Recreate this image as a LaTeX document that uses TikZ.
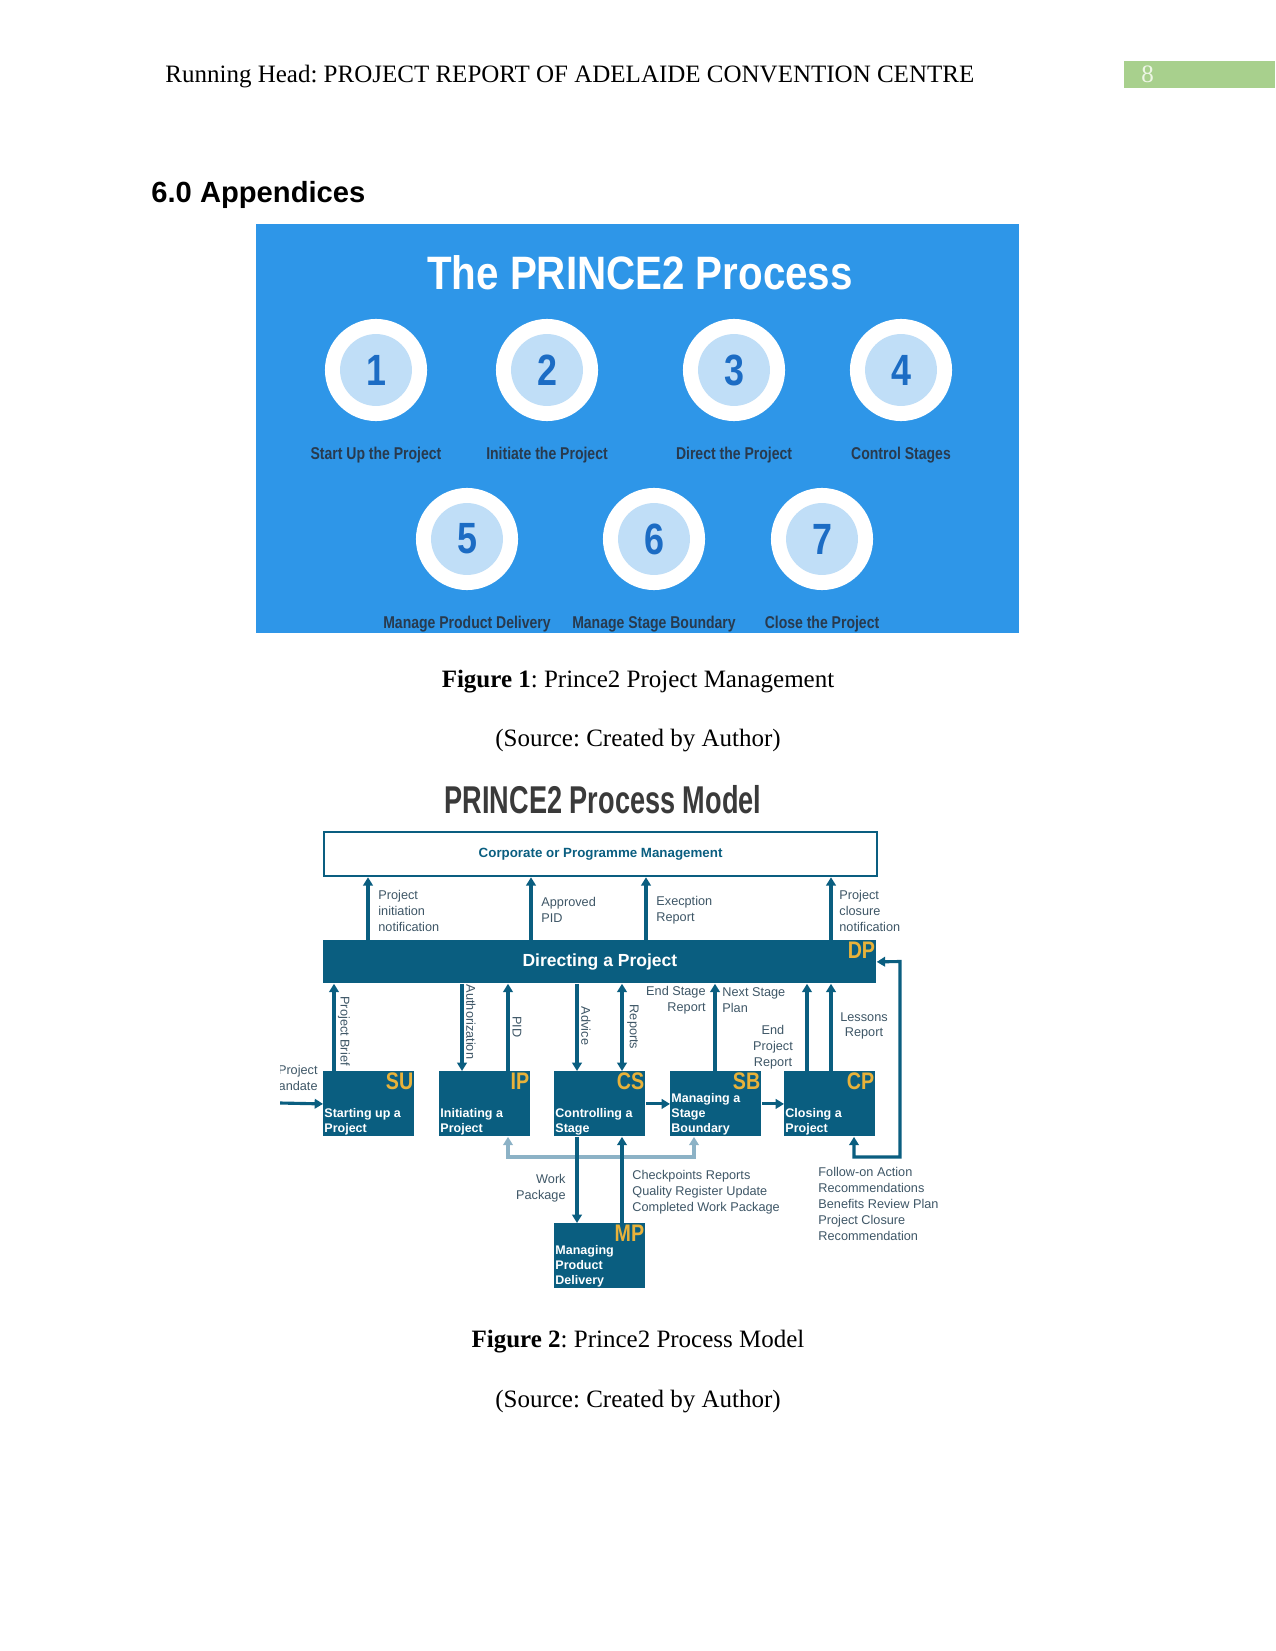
\documentclass[tikz,border=0pt]{standalone}
\usepackage{fontspec}
\setmainfont{Liberation Serif}
\setsansfont{Liberation Sans}
\newfontfamily\widesans[FakeStretch=0.86]{Liberation Sans}
\newfontfamily\narrowsans[FakeStretch=0.82]{Liberation Sans}
\newfontfamily\tightsans[FakeStretch=0.7]{Liberation Sans}
\usetikzlibrary{arrows.meta, positioning}
\frenchspacing

\definecolor{pblue}{RGB}{46,150,232}
\definecolor{pring}{RGB}{192,222,247}
\definecolor{pnum}{RGB}{28,108,196}
\definecolor{plabel}{RGB}{40,58,78}
\definecolor{pteal}{RGB}{10,94,128}
\definecolor{pgold}{RGB}{232,178,58}
\definecolor{plite}{RGB}{140,178,198}
\definecolor{ptext}{RGB}{62,86,102}
\definecolor{pgreen}{RGB}{168,208,141}
\definecolor{ptabtext}{RGB}{238,246,230}
\definecolor{ptitle}{RGB}{58,58,58}

\begin{document}
\begin{tikzpicture}[x=0.48pt, y=-0.48pt,
  >={Triangle[width=4.6pt,length=4pt]},
  pagetext/.style={font=\fontsize{12}{14}\selectfont, inner sep=0pt},
  ring/.style={circle, fill=white, minimum size=49pt, inner sep=0pt},
  core/.style={circle, fill=pring, minimum size=34.5pt, inner sep=0pt,
               text=pnum, font=\narrowsans\bfseries\fontsize{21}{21}\selectfont},
  steplabel/.style={anchor=base, inner sep=0pt, text=plabel,
                    font=\narrowsans\bfseries\fontsize{8.2}{9}\selectfont},
  proc/.style={fill=pteal, minimum width=43.7pt, minimum height=31.2pt,
               inner sep=0pt, anchor=north west},
  code/.style={anchor=north east, inner sep=0.6pt, text=pgold,
               font=\narrowsans\bfseries\fontsize{11.5}{11.5}\selectfont},
  proclabel/.style={anchor=south west, align=left, inner sep=0.5pt, text=white,
                    font=\sffamily\bfseries\fontsize{6}{7.2}\selectfont},
  note/.style={inner sep=0pt, text=ptext,
               font=\sffamily\fontsize{6.1}{7.6}\selectfont},
  vnote/.style={note, rotate=-90},
  flow/.style={->, draw=pteal, line width=1.5pt},
  lite/.style={<->, draw=plite, line width=1.5pt}
]
\useasboundingbox (0,0) rectangle (1275,1651);

\node[pagetext, anchor=base west] (head) at (165,83)
  {Running Head: PROJECT REPORT OF ADELAIDE CONVENTION CENTRE};
\node[fill=pgreen, minimum width=72.5pt, minimum height=13pt, inner sep=0pt,
      anchor=north west] (tab) at (1124,61) {};
\node[pagetext, text=ptabtext, anchor=base west] (pgno) at (1141,83) {8};
\node[anchor=base west, inner sep=0pt,
      font=\sffamily\bfseries\fontsize{14}{16}\selectfont] (sec) at (151,203)
  {6.0 Appendices};

\fill[pblue] (256,224) rectangle (1019,633);
\node[anchor=base, inner sep=0pt, text=white,
      font=\widesans\bfseries\fontsize{22.5}{24}\selectfont] (ttl) at (640,290)
  {The PRINCE2 Process};
\foreach \n/\x/\y/\t in {1/376/370/Start Up the Project, 2/547/370/Initiate the Project,
    3/734/370/Direct the Project, 4/901/370/Control Stages,
    5/467/539/Manage Product Delivery, 6/654/539/Manage Stage Boundary,
    7/822/539/Close the Project}{
  \node[ring] (r\n) at (\x,\y) {};
  \node[core] (c\n) at (r\n) {\n};
  \node[steplabel] (t\n) at (\x,\y+89) {\t};
}

\node[pagetext, anchor=base] (cap1) at (638,687)
  {\textbf{Figure 1}: Prince2 Project Management};
\node[pagetext, anchor=base] (src1) at (638,746) {(Source: Created by Author)};

\node[anchor=base, inner sep=0pt, text=ptitle,
      font=\tightsans\bfseries\fontsize{18.6}{20}\selectfont] (mttl) at (603,813)
  {PRINCE2 Process Model};

\node[draw=pteal, line width=1.1pt, minimum width=265.4pt, minimum height=21.1pt,
      inner sep=0pt, anchor=north west, text=pteal,
      font=\sffamily\bfseries\fontsize{6.4}{7.6}\selectfont] (corp) at (323,831)
  {Corporate or Programme Management};
\node[fill=pteal, minimum width=265.4pt, minimum height=20.6pt, inner sep=0pt,
      anchor=north west, text=white,
      font=\sffamily\bfseries\fontsize{8.4}{10}\selectfont] (dp) at (323,940)
  {Directing a Project};
\node[code] (dpc) at (dp.north east) {DP};

\node[proc] (su) at (323,1071) {};
\node[proc] (ip) at (439,1071) {};
\node[proc] (cs) at (554,1071) {};
\node[proc] (sb) at (670,1071) {};
\node[proc] (cp) at (784,1071) {};
\node[proc] (mp) at (554,1223) {};
\node[code] (suc) at (su.north east) {SU};
\node[code] (ipc) at (ip.north east) {IP};
\node[code] (csc) at (cs.north east) {CS};
\node[code] (sbc) at (sb.north east) {SB};
\node[code] (cpc) at (cp.north east) {CP};
\node[code] (mpc) at (mp.north east) {MP};
\node[proclabel] (sul) at (su.south west) {Starting up a\\Project};
\node[proclabel] (ipl) at (ip.south west) {Initiating a\\Project};
\node[proclabel] (csl) at (cs.south west) {Controlling a\\Stage};
\node[proclabel] (sbl) at (sb.south west) {Managing a\\Stage\\Boundary};
\node[proclabel] (cpl) at (cp.south west) {Closing a\\Project};
\node[proclabel] (mpl) at (mp.south west) {Managing\\Product\\Delivery};

\coordinate (u1) at (368,0);
\coordinate (u2) at (531,0);
\coordinate (u3) at (646,0);
\coordinate (u4) at (831,0);
\draw[flow] (dp.north -| u1) -- (corp.south -| u1);
\draw[flow] (dp.north -| u2) -- (corp.south -| u2);
\draw[flow] (dp.north -| u3) -- (corp.south -| u3);
\draw[flow] (dp.north -| u4) -- (corp.south -| u4);
\node[note, anchor=west, align=left] (n1) at (378,911)
  {Project\\initiation\\notification};
\node[note, anchor=west, align=left] (n2) at (541,910) {Approved\\PID};
\node[note, anchor=west, align=left] (n3) at (656,910) {Execption\\Report};
\node[note, anchor=west, align=left] (n4) at (839,911)
  {Project\\closure\\notification};

\coordinate (d1) at (334,0);
\coordinate (d2) at (462,0);
\coordinate (d3) at (508,0);
\coordinate (d4) at (577,0);
\coordinate (d5) at (622,0);
\coordinate (d6) at (715,0);
\coordinate (d7) at (807,0);
\draw[flow] (su.north -| d1) -- (dp.south -| d1);
\draw[flow] (dp.south -| d2) -- (ip.north -| d2);
\draw[flow] (ip.north -| d3) -- (dp.south -| d3);
\draw[flow] (dp.south -| d4) -- (cs.north -| d4);
\draw[flow, <->] (dp.south -| d5) -- (cs.north -| d5);
\draw[flow] (sb.north -| d6) -- (dp.south -| d6);
\draw[flow] (cp.north -| d7) -- (dp.south -| d7);
\draw[flow] (cp.north -| u4) -- (dp.south -| u4);
\node[vnote] (v1) at (344,1031) {Project Brief};
\node[vnote] (v2) at (471,1022) {Authorization};
\node[vnote] (v3) at (517,1027) {PID};
\node[vnote] (v4) at (586,1026) {Advice};
\node[vnote] (v5) at (633,1027) {Reports};
\node[note, anchor=east, align=right] (n5) at (706,1000) {End Stage\\Report};
\node[note, anchor=west, align=left] (n6) at (722,1000) {Next Stage\\Plan};
\node[note, align=center] (n7) at (773,1047) {End\\Project\\Report};
\node[note, align=center] (n8) at (864,1026) {Lessons\\Report};

\begin{scope}
  \clip (280,1050) rectangle (330,1120);
  \coordinate (mand) at (280,1103);
  \node[note, anchor=east, align=right] (n9) at (318,1078) {Project\\Mandate};
  \draw[flow] (mand) -- (su.west);
\end{scope}
\draw[flow] (cs.east) -- (sb.west);
\draw[flow] (sb.east) -- (cp.west);

\coordinate (w1) at (508,1157);
\coordinate (w2) at (694,1157);
\draw[lite] (ip.south -| w1) -- (w1) -- (w2) -- (sb.south -| w2);
\draw[flow] (cs.south -| d4) -- (mp.north -| d4);
\draw[flow] (mp.north -| d5) -- (cs.south -| d5);
\node[note, anchor=east, align=right] (n10) at (566,1188) {Work\\Package};
\node[note, anchor=west, align=left] (n11) at (632,1192)
  {Checkpoints Reports\\Quality Register Update\\Completed Work Package};

\coordinate (k1) at (900,961.5);
\coordinate (k2) at (854,1157);
\draw[flow, <->] (dp.east) -- (k1) |- (k2) -- (cp.south -| k2);
\node[note, anchor=west, align=left] (n12) at (818,1204)
  {Follow-on Action\\Recommendations\\Benefits Review Plan\\Project Closure\\Recommendation};

\node[pagetext, anchor=base] (cap2) at (638,1347)
  {\textbf{Figure 2}: Prince2 Process Model};
\node[pagetext, anchor=base] (src2) at (638,1407) {(Source: Created by Author)};
\end{tikzpicture}
\end{document}
